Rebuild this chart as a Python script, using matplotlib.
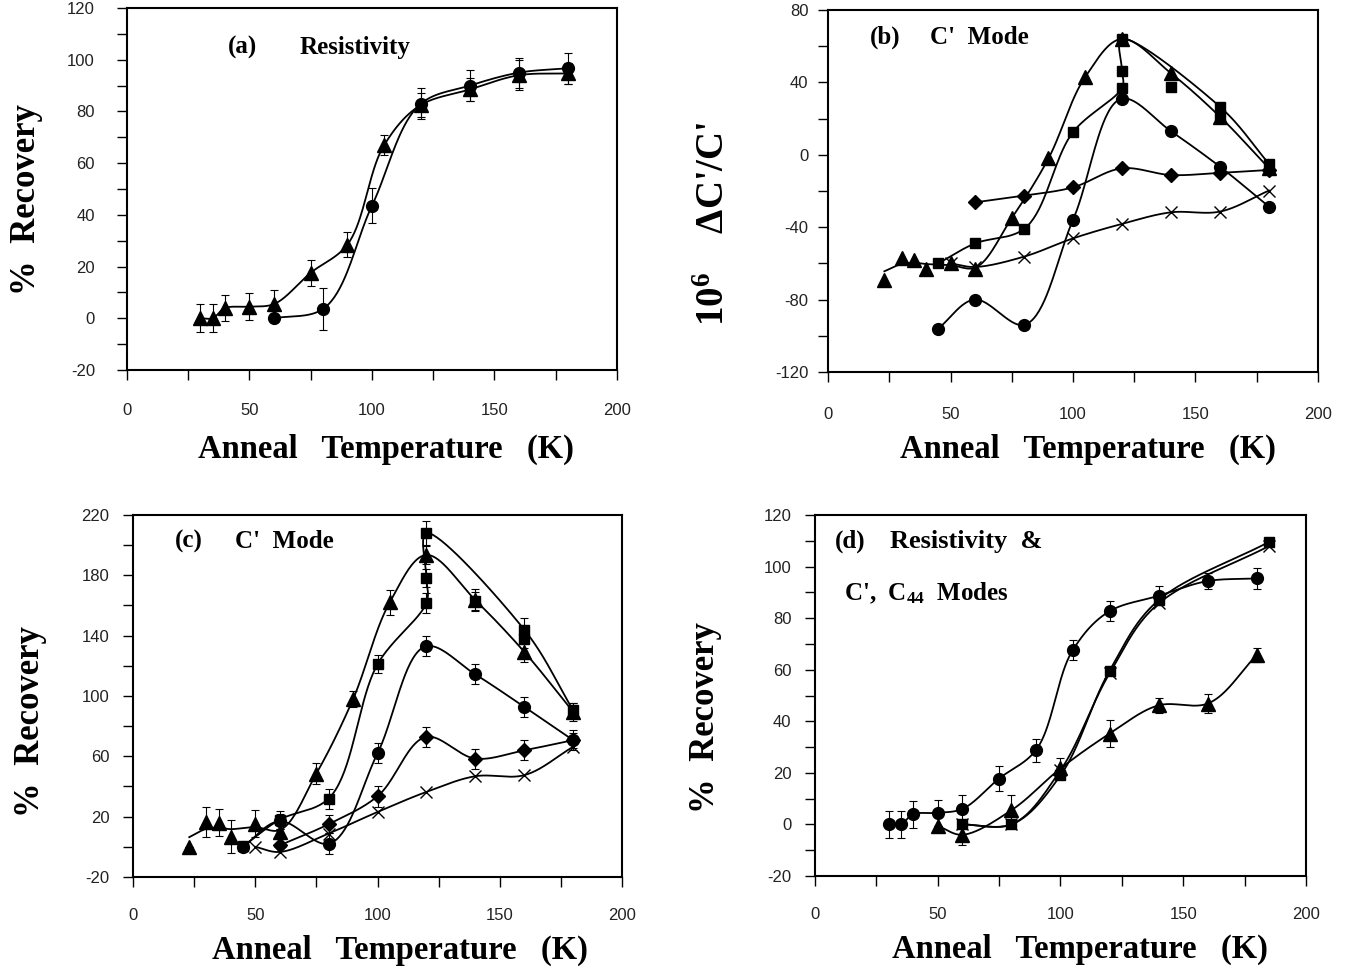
import numpy as np
import matplotlib.pyplot as plt
from matplotlib.ticker import MultipleLocator

plt.rcParams['font.family'] = ['Liberation Serif', 'DejaVu Serif']
plt.rcParams['axes.unicode_minus'] = False
plt.rcParams['mathtext.fontset'] = 'custom'
plt.rcParams['mathtext.rm'] = 'Liberation Serif:bold'
plt.rcParams['mathtext.it'] = 'Liberation Serif:bold'
plt.rcParams['mathtext.bf'] = 'Liberation Serif:bold'

# ---- (a) Resistivity, % recovery ----
a_tri_T = [30, 35, 40, 50, 60, 75, 90, 105, 120, 140, 160, 180]
a_tri_y = [0, 0, 4, 4.5, 5.5, 17.6, 28.5, 67, 82.5, 88.5, 94, 94.7]
a_tri_err = [5.4, 5.4, 5.2, 5.2, 5.5, 5, 4.7, 3.7, 4.8, 4.5, 5.8, 4]
a_cir_T = [60, 80, 100, 120, 140, 160, 180]
a_cir_y = [0, 3.6, 43.5, 83, 90, 95, 96.7]
a_cir_err = [0, 8.2, 6.8, 6, 6, 5.8, 6]

# ---- (b) C' mode, 10^6 dC'/C' ----
b_tri_T = [23, 30, 35, 40, 50, 60, 75, 90, 105, 120, 140, 160, 180]
b_tri_y = [-69, -57, -58, -63, -60, -63, -35, -2, 43, 64, 45, 21, -7.5]
b_sq_T = [45, 60, 80, 100, 120, 120, 120, 160, 180]
b_sq_y = [-60, -49, -41, 12.5, 37, 46.5, 64, 26.5, -5]
b_sq_extra_T = [140, 160]
b_sq_extra_y = [37.5, 22]
b_cir_T = [45, 60, 80, 100, 120, 140, 160, 180]
b_cir_y = [-96, -80, -94, -36, 31, 13, -6.6, -28.7]
b_dia_T = [60, 80, 100, 120, 140, 160, 180]
b_dia_y = [-26.3, -22.6, -18, -7.5, -11.2, -10, -8.4]
b_x_T = [50, 60, 80, 100, 120, 140, 160, 180]
b_x_y = [-60, -62, -56.3, -46.2, -38.2, -31.8, -31.4, -19.8]

# ---- (c) C' mode, % recovery ----
c_tri_T = [23, 30, 35, 40, 50, 60, 75, 90, 105, 120, 140, 160, 180]
c_tri_y = [0, 16.5, 16, 6.6, 15.4, 10, 48.6, 97.9, 162, 193.5, 163.6, 129.3, 89.5]
c_tri_err = [0, 10, 9, 11, 9, 5, 7, 5.5, 8, 6, 7, 6.6, 6]
c_sq_T = [45, 60, 80, 100, 120, 120, 120, 160, 180]
c_sq_y = [0.4, 18, 32, 121, 161.8, 178, 208, 144, 90.6]
c_sq_err = [0, 6, 6.6, 5.9, 6.6, 6, 8, 7.7, 5]
c_sq_extra_T = [140, 160]
c_sq_extra_y = [163, 138]
c_sq_extra_err = [6, 6]
c_cir_T = [45, 60, 80, 100, 120, 140, 160, 180]
c_cir_y = [0, 17, 2, 62, 133, 114.3, 92.8, 70.7]
c_cir_err = [0, 5, 7, 6.6, 6.6, 6.6, 6.6, 6.6]
c_dia_T = [60, 80, 100, 120, 140, 160, 180]
c_dia_y = [1, 15, 33.5, 72.9, 58.5, 64, 70.7]
c_dia_err = [0, 6, 7, 6.6, 6.6, 6.6, 5]
c_x_T = [50, 60, 80, 100, 120, 140, 160, 180]
c_x_y = [0, -3.4, 8.8, 23.1, 36.4, 46.8, 47.5, 66.3]

# ---- (d) Resistivity & C', C44 modes ----
d_cir_T = [30, 35, 40, 50, 60, 75, 90, 105, 120, 140, 160, 180]
d_cir_y = [0, 0, 4, 4.5, 6, 17.8, 28.8, 67.6, 82.7, 88.7, 94.4, 95.4]
d_cir_err = [5.4, 5.4, 5.2, 5, 5.4, 5, 4.5, 4, 3.8, 3.7, 3.2, 4]
d_tri_T = [50, 60, 80, 100, 120, 140, 160, 180]
d_tri_y = [-0.5, -4, 5.5, 21.7, 35.2, 46.2, 46.9, 65.7]
d_tri_err = [0, 4, 5.8, 4, 5.3, 3, 3.6, 2.7]
d_sq_T = [60, 80, 100, 120, 140, 185]
d_sq_y = [0, 0, 19, 59.6, 87, 109.6]
d_x_T = [60, 80, 100, 120, 140, 185]
d_x_y = [0, 0, 21, 58.6, 85.7, 108]


def presmooth(xs, ys, sig):
    # light gaussian smoothing of closely spaced points (the fitted curve)
    xs = np.asarray(xs, float)
    ys = np.asarray(ys, float)
    if sig <= 0:
        return ys
    out = np.empty_like(ys)
    for i, x in enumerate(xs):
        d = xs - x
        w = np.exp(-0.5 * (d / sig) ** 2)
        w[np.abs(d) > 12] = 0
        w[(d == 0) & (np.arange(len(xs)) != i)] = 0
        out[i] = np.sum(w * ys) / np.sum(w)
    return out


def smooth(xs, ys, yspan, n=40):
    # centripetal Catmull-Rom through the points (scaled to axes units)
    P = np.column_stack([np.asarray(xs, float) / 200.0, np.asarray(ys, float) / yspan])
    P = np.vstack([2 * P[0] - P[1], P, 2 * P[-1] - P[-2]])
    out = []
    for i in range(1, len(P) - 2):
        p0, p1, p2, p3 = P[i - 1], P[i], P[i + 1], P[i + 2]
        t0 = 0.0
        t1 = t0 + max(np.linalg.norm(p1 - p0), 1e-6) ** 0.5
        t2 = t1 + max(np.linalg.norm(p2 - p1), 1e-6) ** 0.5
        t3 = t2 + max(np.linalg.norm(p3 - p2), 1e-6) ** 0.5
        t = np.linspace(t1, t2, n)[:, None]
        A1 = (t1 - t) / (t1 - t0) * p0 + (t - t0) / (t1 - t0) * p1
        A2 = (t2 - t) / (t2 - t1) * p1 + (t - t1) / (t2 - t1) * p2
        A3 = (t3 - t) / (t3 - t2) * p2 + (t - t2) / (t3 - t2) * p3
        B1 = (t2 - t) / (t2 - t0) * A1 + (t - t0) / (t2 - t0) * A2
        B2 = (t3 - t) / (t3 - t1) * A2 + (t - t1) / (t3 - t1) * A3
        C = (t2 - t) / (t2 - t1) * B1 + (t - t1) / (t2 - t1) * B2
        out.append(C)
    C = np.vstack(out)
    return C[:, 0] * 200.0, C[:, 1] * yspan


MK = {'^': 9.5, 'o': 8.5, 's': 7.5, 'D': 7, 'x': 9}


def series(ax, T, y, mk, yspan, err=None, line=True, sig=0):
    if line:
        sx, sy = smooth(T, presmooth(T, y, sig), yspan)
        ax.plot(sx, sy, color='black', lw=1.3, zorder=2)
    if err is not None:
        ax.errorbar(T, y, yerr=err, fmt='none', ecolor='black', elinewidth=0.8,
                    capsize=3, capthick=0.8, zorder=3)
    if mk == 'x':
        ax.plot(T, y, ls='none', marker='x', ms=MK[mk], mew=1.0, color='black', zorder=4)
    else:
        ax.plot(T, y, ls='none', marker=mk, ms=MK[mk], color='black', mec='black', zorder=4)


def setup(ax, ylo, yhi, ymaj, ymin, ypad, xpad, yoff=0.0):
    ax.set_xlim(0, 200)
    ax.set_ylim(ylo, yhi)
    ax.xaxis.set_major_locator(MultipleLocator(50))
    ax.xaxis.set_minor_locator(MultipleLocator(25))
    ax.yaxis.set_major_locator(MultipleLocator(ymaj, offset=yoff))
    ax.yaxis.set_minor_locator(MultipleLocator(ymin))
    ax.tick_params(which='both', direction='out', length=7, width=1.0, color='black')
    ax.tick_params(axis='y', which='major', pad=ypad)
    ax.tick_params(axis='x', which='major', pad=xpad)
    for lab in ax.get_xticklabels() + ax.get_yticklabels():
        lab.set_family(['Liberation Sans Narrow', 'Liberation Sans', 'DejaVu Sans'])
        lab.set_fontsize(12)
        lab.set_color('#222222')
    for sp in ax.spines.values():
        sp.set_linewidth(1.5)


fig = plt.figure(figsize=(13.49, 9.74), dpi=100)
axa = fig.add_axes([0.0941, 0.6201, 0.3632, 0.3717])
axb = fig.add_axes([0.6138, 0.6181, 0.3632, 0.3717])
axc = fig.add_axes([0.0986, 0.0996, 0.3625, 0.3717])
axd = fig.add_axes([0.6041, 0.1006, 0.3640, 0.3706])

bold = dict(fontweight='bold', family=['Liberation Serif', 'DejaVu Serif'])
XLAB = 'Anneal   Temperature   (K)'
YLAB = '%  Recovery'

# (a)
setup(axa, -20, 120, 20, 10, 16, 17)
series(axa, a_tri_T, a_tri_y, '^', 140, a_tri_err)
series(axa, a_cir_T, a_cir_y, 'o', 140, a_cir_err)
axa.text(0.206, 0.892, '(a)', transform=axa.transAxes, fontsize=18, va='center', **bold)
axa.text(0.353, 0.892, 'Resistivity', transform=axa.transAxes, fontsize=18, va='center', **bold)
axa.text(-0.204, 0.47, YLAB, transform=axa.transAxes, fontsize=25, rotation=90,
         ha='center', va='center', **bold)
axa.text(0.529, -0.218, XLAB, transform=axa.transAxes, fontsize=23.5,
         ha='center', va='center', **bold)

# (b)
setup(axb, -120, 80, 40, 20, 7, 18)
series(axb, b_tri_T, b_tri_y, '^', 200, sig=6)
series(axb, b_sq_T, b_sq_y, 's', 200)
series(axb, b_sq_extra_T, b_sq_extra_y, 's', 200, line=False)
series(axb, b_cir_T, b_cir_y, 'o', 200)
series(axb, b_dia_T, b_dia_y, 'D', 200)
series(axb, b_x_T, b_x_y, 'x', 200)
axb.text(0.086, 0.925, '(b)', transform=axb.transAxes, fontsize=18, va='center', **bold)
axb.text(0.208, 0.925, "C'  Mode", transform=axb.transAxes, fontsize=18, va='center', **bold)
axb.text(-0.231, 0.409, "10$^{6}$    \u0394C'/C'", transform=axb.transAxes, fontsize=28,
         rotation=90, ha='center', va='center', **bold)
axb.text(0.531, -0.213, XLAB, transform=axb.transAxes, fontsize=23.5,
         ha='center', va='center', **bold)

# (c)
setup(axc, -20, 220, 40, 20, 10, 15, yoff=-20)
series(axc, c_tri_T, c_tri_y, '^', 240, c_tri_err, sig=6)
series(axc, c_sq_T, c_sq_y, 's', 240, c_sq_err)
series(axc, c_sq_extra_T, c_sq_extra_y, 's', 240, c_sq_extra_err, line=False)
series(axc, c_cir_T, c_cir_y, 'o', 240, c_cir_err)
series(axc, c_dia_T, c_dia_y, 'D', 240, c_dia_err)
series(axc, c_x_T, c_x_y, 'x', 240)
axc.text(0.086, 0.928, '(c)', transform=axc.transAxes, fontsize=18, va='center', **bold)
axc.text(0.209, 0.928, "C'  Mode", transform=axc.transAxes, fontsize=18, va='center', **bold)
axc.text(-0.21, 0.43, YLAB, transform=axc.transAxes, fontsize=25, rotation=90,
         ha='center', va='center', **bold)
axc.text(0.546, -0.202, XLAB, transform=axc.transAxes, fontsize=23.5,
         ha='center', va='center', **bold)

# (d)
setup(axd, -20, 120, 20, 10, 10, 15)
series(axd, d_cir_T, d_cir_y, 'o', 140, d_cir_err)
series(axd, d_tri_T, d_tri_y, '^', 140, d_tri_err)
series(axd, d_sq_T, d_sq_y, 's', 140)
series(axd, d_x_T, d_x_y, 'x', 140)
axd.text(0.041, 0.928, '(d)', transform=axd.transAxes, fontsize=18, va='center', **bold)
axd.text(0.153, 0.928, 'Resistivity  &', transform=axd.transAxes, fontsize=19, va='center', **bold)
axd.text(0.059, 0.784, "C',  C$_{44}$  Modes", transform=axd.transAxes, fontsize=18,
         va='center', **bold)
axd.text(-0.222, 0.44, YLAB, transform=axd.transAxes, fontsize=25, rotation=90,
         ha='center', va='center', **bold)
axd.text(0.54, -0.202, XLAB, transform=axd.transAxes, fontsize=23.5,
         ha='center', va='center', **bold)

fig.savefig('out.png', dpi=100)
